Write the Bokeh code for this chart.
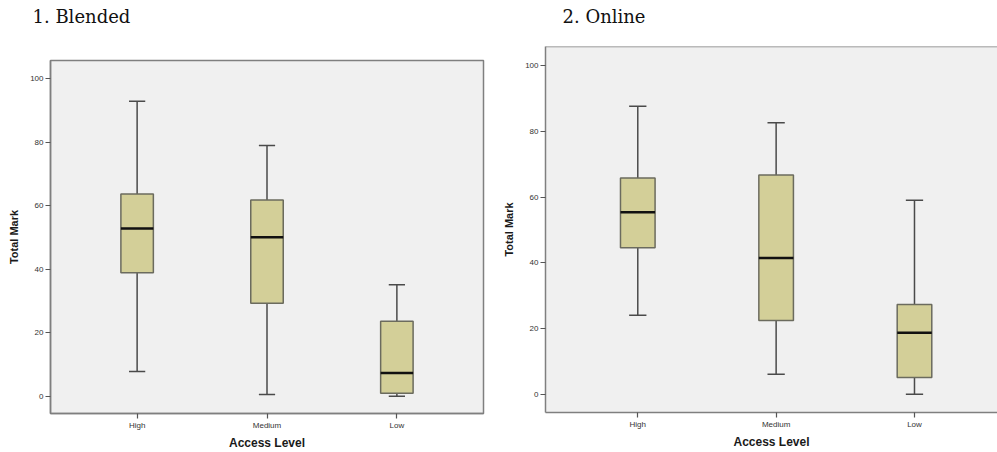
from bokeh.plotting import figure
from bokeh.models import Range1d, FixedTicker, Span, Title
from bokeh.layouts import row, column
from bokeh.embed import file_html
from bokeh.resources import INLINE

categories = ["High", "Medium", "Low"]
y_ticks = [0, 20, 40, 60, 80, 100]

blended_lower = [7.8, 0.5, 0.0]
blended_q1 = [38.9, 29.3, 0.9]
blended_median = [52.8, 50.1, 7.3]
blended_q3 = [63.7, 61.8, 23.6]
blended_upper = [92.9, 79.0, 35.1]

online_lower = [24.1, 6.2, 0.1]
online_q1 = [44.6, 22.5, 5.2]
online_median = [55.4, 41.5, 18.8]
online_q3 = [65.8, 66.7, 27.4]
online_upper = [87.6, 82.6, 59.0]

BOX_W = 0.25
FILL = "#d3cf98"
BOX_LINE = "#6b6b5e"
WHISK = "#4a4a4a"
FRAME = "#7f7f7f"


def make(title, t_offset, gap, lower, q1, med, q3, upper,
         width, height, bl, br, bt, bb, x_end, full_outline):
    xs = list(range(1, len(categories) + 1))
    p = figure(width=width, height=height, output_backend="svg", toolbar_location=None,
               x_range=Range1d(0.333, x_end), y_range=Range1d(-5.45, 105.75),
               min_border_left=bl, min_border_right=br, min_border_top=bt,
               min_border_bottom=bb)
    p.title = Title(text=title, align="left", offset=t_offset, standoff=0,
                    vertical_align="bottom",
                    text_font="DejaVu Serif", text_font_size="18px",
                    text_font_style="normal", text_color="#111111")
    # blank spacer between the title and the frame
    p.add_layout(Title(text=" ", text_font_size="14px", standoff=gap), "above")
    p.background_fill_color = "#f0f0f0"
    p.border_fill_color = "white"
    p.xgrid.visible = False
    p.ygrid.visible = False
    if full_outline:
        p.outline_line_color = FRAME
        p.outline_line_width = 1.5
    else:
        p.outline_line_color = None
        p.add_layout(Span(location=105.75, dimension="width", line_color=FRAME,
                          line_width=1.5))

    half = BOX_W / 2
    quarter = BOX_W / 4
    p.segment(x0=xs, y0=q3, x1=xs, y1=upper, line_color=WHISK, line_width=1.5)
    p.segment(x0=xs, y0=q1, x1=xs, y1=lower, line_color=WHISK, line_width=1.5)
    p.segment(x0=[x - quarter for x in xs], y0=upper, x1=[x + quarter for x in xs],
              y1=upper, line_color=WHISK, line_width=1.5)
    p.segment(x0=[x - quarter for x in xs], y0=lower, x1=[x + quarter for x in xs],
              y1=lower, line_color=WHISK, line_width=1.5)
    p.vbar(x=xs, width=BOX_W, bottom=q1, top=q3, fill_color=FILL,
           line_color=BOX_LINE, line_width=1.5)
    p.segment(x0=[x - half for x in xs], y0=med, x1=[x + half for x in xs], y1=med,
              line_color="#111111", line_width=2.5)

    p.xaxis.ticker = FixedTicker(ticks=xs)
    p.xaxis.major_label_overrides = {x: c for x, c in zip(xs, categories)}
    p.yaxis.ticker = FixedTicker(ticks=y_ticks)
    p.xaxis.axis_label = "Access Level"
    p.yaxis.axis_label = "Total Mark"
    for ax in (p.xaxis, p.yaxis):
        ax.minor_tick_line_color = None
        ax.major_tick_in = 0
        ax.major_tick_out = 5
        ax.major_tick_line_color = "#555555"
        ax.major_tick_line_width = 1.2
        ax.axis_line_color = FRAME
        ax.axis_line_width = 1.5
        ax.major_label_text_font = "Liberation Sans"
        ax.major_label_text_font_size = "8px"
        ax.major_label_text_color = "#333333"
        ax.major_label_standoff = 2
        ax.axis_label_text_font = "Liberation Sans"
        ax.axis_label_text_font_style = "bold"
        ax.axis_label_text_color = "#1a1a1a"
    p.xaxis.axis_label_text_font_size = "12px"
    p.yaxis.axis_label_text_font_size = "11px"
    p.xaxis.axis_label_standoff = 3
    p.yaxis.axis_label_standoff = 7
    return p


p1 = make("1.  Blended", -18, 16, blended_lower, blended_q1, blended_median,
          blended_q3, blended_upper, 500, 452, 50, 17, 60, 38, 3.667, True)
p2 = make("2. Online", 17, 2, online_lower, online_q1, online_median,
          online_q3, online_upper, 497, 452, 43, 0, 46, 40, 3.6, False)

layout = row(column(p1), column(p2))
open("out.html", "w").write(file_html(layout, INLINE))
